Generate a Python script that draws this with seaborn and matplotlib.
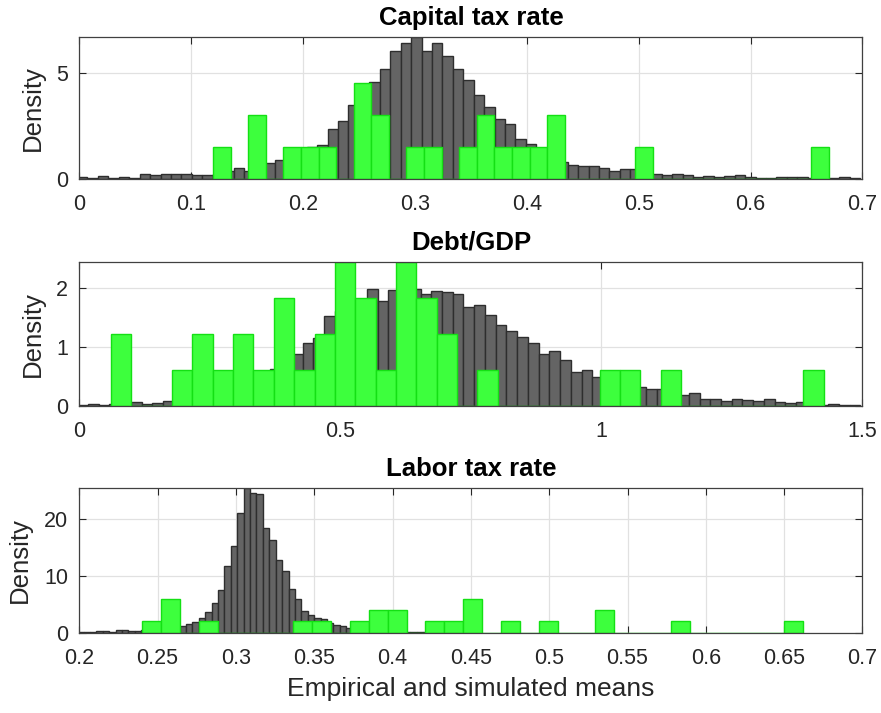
import numpy as np
import pandas as pd
import matplotlib
matplotlib.use("Agg")
import matplotlib.pyplot as plt
import seaborn as sns

# --- Capital tax rate ---
cap_sim_start, cap_sim_width = -0.002, 0.00933
cap_sim = [0.11, 0.06, 0.13, 0.06, 0.10, 0.05, 0.22, 0.18, 0.24, 0.22,
           0.22, 0.17, 0.20, 0.25, 0.37, 0.50, 0.37, 0.50, 0.74, 0.89,
           1.10, 1.30, 1.50, 1.60, 2.35, 2.75, 3.52, 4.10, 4.61, 5.20,
           6.08, 6.43, 6.74, 6.08, 6.43, 5.83, 5.20, 4.69, 3.98, 3.40,
           2.83, 2.60, 1.90, 1.64, 1.30, 1.00, 0.80, 0.66, 0.62, 0.60,
           0.52, 0.40, 0.45, 0.45, 0.30, 0.22, 0.17, 0.24, 0.20, 0.11,
           0.15, 0.09, 0.15, 0.20, 0.11, 0.06, 0.06, 0.09, 0.08, 0.08,
           0.05, 0.05, 0.03, 0.10, 0.06]
cap_emp_start, cap_emp_width = 0.1195, 0.01572
cap_emp = [1.52, 0, 3.05, 0, 1.52, 1.52, 1.52, 0, 4.57, 3.05,
           0, 1.52, 1.52, 0, 1.52, 3.05, 1.52, 1.52, 1.52, 3.05,
           0, 0, 0, 0, 1.52, 0, 0, 0, 0, 0,
           0, 0, 0, 0, 1.52]

# --- Debt/GDP ---
debt_sim_start, debt_sim_width = -0.004, 0.02055
debt_sim = [0.02, 0.03, 0.01, 0.03, 0.03, 0.06, 0.03, 0.05, 0.08, 0.10,
            0.13, 0.17, 0.20, 0.25, 0.30, 0.38, 0.45, 0.55, 0.63, 0.70,
            0.87, 1.06, 1.15, 1.52, 1.60, 1.75, 1.80, 1.97, 1.78, 1.96,
            1.95, 1.98, 1.89, 1.95, 1.92, 1.90, 1.68, 1.71, 1.53, 1.37,
            1.26, 1.16, 1.07, 0.87, 0.93, 0.77, 0.57, 0.61, 0.48, 0.45,
            0.42, 0.36, 0.32, 0.29, 0.28, 0.25, 0.18, 0.21, 0.11, 0.12,
            0.08, 0.11, 0.09, 0.08, 0.11, 0.06, 0.04, 0.07, 0.05, 0.02,
            0.03, 0.01, 0.01]
debt_emp_start, debt_emp_width = 0.0606, 0.039
debt_emp = [1.22, 0, 0, 0.61, 1.22, 0.61, 1.22, 0.61, 1.83, 0.61,
            1.22, 2.44, 1.83, 0.61, 2.44, 1.83, 1.22, 0, 0.61, 0,
            0, 0, 0, 0, 0.61, 0.61, 0, 0.61, 0, 0,
            0, 0, 0, 0, 0.61]

# --- Labor tax rate ---
lab_sim_start, lab_sim_width = 0.1986, 0.00409
lab_sim = [0.12, 0.12, 0.15, 0.30, 0.30, 0.20, 0.42, 0.42, 0.30, 0.30,
           0.40, 0.50, 0.60, 0.70, 0.80, 0.90, 1.24, 1.55, 1.94, 2.54,
           3.60, 5.30, 7.50, 11.7, 15.3, 21.1, 25.5, 24.6, 24.5, 18.4,
           16.3, 12.8, 10.9, 7.65, 5.94, 3.83, 3.12, 2.65, 2.47, 1.80,
           1.30, 1.18, 0.88, 0.70, 0.60, 0.50, 0.40, 0.35, 0.30, 0.25,
           0.20, 0.20, 0.15, 0.10, 0.10, 0.05, 0.05, 0.05, 0.05]
lab_emp_start, lab_emp_width = 0.2402, 0.01205
lab_emp = [1.98, 5.94, 0, 1.98, 0, 0, 0, 0, 1.98, 1.98,
           0, 1.98, 3.96, 3.96, 0, 1.98, 1.98, 5.94, 0, 1.98,
           0, 1.98, 0, 0, 3.96, 0, 0, 0, 1.98, 0,
           0, 0, 0, 0, 1.98]

panels = [
    ("Capital tax rate", (cap_sim_start, cap_sim_width, cap_sim),
     (cap_emp_start, cap_emp_width, cap_emp), (0, 0.7), [0, 0.1, 0.2, 0.3, 0.4, 0.5, 0.6, 0.7], [0, 5]),
    ("Debt/GDP", (debt_sim_start, debt_sim_width, debt_sim),
     (debt_emp_start, debt_emp_width, debt_emp), (0, 1.5), [0, 0.5, 1, 1.5], [0, 1, 2]),
    ("Labor tax rate", (lab_sim_start, lab_sim_width, lab_sim),
     (lab_emp_start, lab_emp_width, lab_emp), (0.2, 0.7),
     [0.2, 0.25, 0.3, 0.35, 0.4, 0.45, 0.5, 0.55, 0.6, 0.65, 0.7], [0, 10, 20]),
]

sns.set_style("white")
plt.rcParams['font.family'] = ['Liberation Sans', 'DejaVu Sans']

dark = '#262626'
fig = plt.figure(figsize=(8.81, 7.13), dpi=100)
rects = [[0.090, 0.749, 0.889, 0.1995],
         [0.090, 0.431, 0.889, 0.202],
         [0.090, 0.1126, 0.889, 0.2026]]
ylabel_x = [-0.044, -0.044, -0.060]


def draw_hist(ax, start, width, heights, face, edge):
    n = len(heights)
    centers = start + width * (np.arange(n) + 0.5)
    df = pd.DataFrame({'x': centers, 'h': np.asarray(heights, dtype=float)})
    sns.histplot(data=df, x='x', weights='h', binwidth=width,
                 binrange=(start, start + n * width), stat='count', ax=ax,
                 color=face, edgecolor=edge, linewidth=1.0, alpha=1.0)


for rect, lx, (title, sim, emp, xlim, xticks, yticks) in zip(rects, ylabel_x, panels):
    ax = fig.add_axes(rect)
    ax.set_axisbelow(True)
    draw_hist(ax, *sim, face='#646464', edge='#2e2e2e')
    draw_hist(ax, *emp, face='#3dff3d', edge='#14e014')
    top = max(max(sim[2]), max(emp[2]))
    ax.set_xlim(*xlim)
    ax.set_ylim(0, top)
    ax.set_xticks(xticks)
    ax.set_xticklabels(['%g' % t for t in xticks])
    ax.set_yticks(yticks)
    ax.set_yticklabels(['%g' % t for t in yticks])
    ax.grid(True, color='#e1e1e1', linewidth=0.9)
    ax.tick_params(axis='x', direction='in', length=5, width=0.8, colors=dark,
                   labelsize=15.5, pad=11, top=True, bottom=True)
    ax.tick_params(axis='y', direction='in', length=5, width=0.8, colors=dark,
                   labelsize=15.5, pad=8, left=True, right=True)
    for sp in ax.spines.values():
        sp.set_color('#404040')
        sp.set_linewidth(0.9)
    ax.set_title(title, fontsize=18.5, fontweight='bold', pad=8.5, color='black')
    ax.set_ylabel('Density', fontsize=18.5, color=dark)
    ax.yaxis.set_label_coords(lx, 0.5)
    ax.set_xlabel('')

ax.set_xlabel('Empirical and simulated means', fontsize=19, color=dark, labelpad=6)

fig.savefig('out.png', dpi=100)
